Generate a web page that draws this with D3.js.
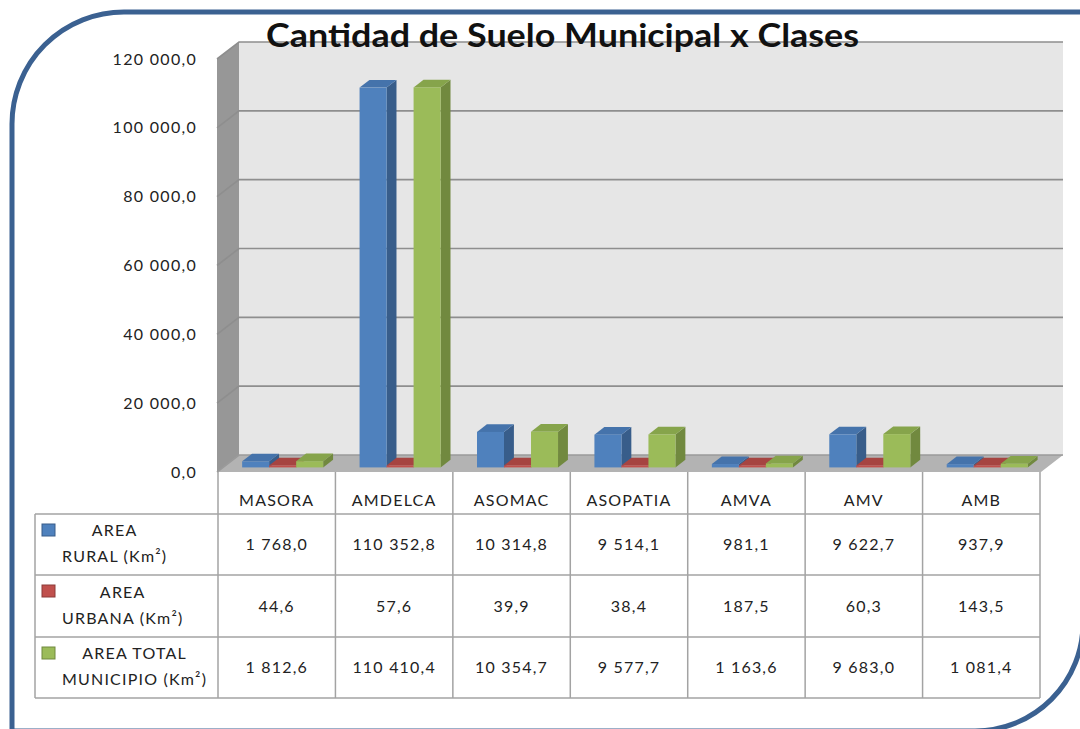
<!DOCTYPE html>
<html>
<head>
<meta charset="utf-8">
<script src="https://cdnjs.cloudflare.com/ajax/libs/d3/7.8.5/d3.min.js"></script>
<style>
  body { margin: 0; background: #fff; }
  svg { display: block; font-family: Lato, "Open Sans", sans-serif; }
  .tick-label { font-size: 16px; fill: #222; letter-spacing: 1.3px; }
  .cell { font-size: 16px; fill: #222; letter-spacing: 1.2px; }
</style>
</head>
<body>
<script>
// datos
var categories = ["MASORA", "AMDELCA", "ASOMAC", "ASOPATIA", "AMVA", "AMV", "AMB"];
var rural  = [1768.0, 110352.8, 10314.8, 9514.1, 981.1, 9622.7, 937.9];
var urbana = [44.6, 57.6, 39.9, 38.4, 187.5, 60.3, 143.5];
var total  = [1812.6, 110410.4, 10354.7, 9577.7, 1163.6, 9683.0, 1081.4];
var seriesNames = [["AREA", "RURAL (Km\u00b2)"], ["AREA", "URBANA (Km\u00b2)"], ["AREA TOTAL", "MUNICIPIO  (Km\u00b2)"]];
var yTicks = [0, 20000, 40000, 60000, 80000, 100000, 120000];

var w = 1080, h = 729;
var colors = [
  {front: "#4f81bd", side: "#385d8a", top: "#4573ab"},
  {front: "#c0504d", side: "#8c3a38", top: "#a64441"},
  {front: "#9bbb59", side: "#71893f", top: "#86a44b"}
];
var series = [rural, urbana, total];

var svg = d3.select("body").append("svg")
  .attr("width", w)
  .attr("height", h);

// marco azul con esquinas redondeadas
var r1 = 112, r2 = 108, bot = 731;
svg.append("path")
  .attr("d", "M12,745 L12," + (12 + r1) + " A" + r1 + "," + r1 + " 0 0 1 " + (12 + r1) + ",12 L1095,12"
    + " M1083," + (bot - r2) + " A" + r2 + "," + r2 + " 0 0 1 " + (1083 - r2) + "," + bot + " L12," + bot)
  .style("fill", "none")
  .style("stroke", "#3b6191")
  .style("stroke-width", 5);

// geometria 3D
var floorY = 472, x0 = 217, x1 = 1041;
var dx = 22, dy = -17, wallH = 413;

var y = d3.scaleLinear().domain([0, 120000]).range([0, wallH]);
var xCol = d3.scaleBand().domain(categories).range([218, 1040]);
var x = d3.scaleBand().domain(categories).range([218, 1040]).paddingInner(0.31).paddingOuter(0.155);
var xs = d3.scaleBand().domain([0, 1, 2]).range([0, x.bandwidth()]);

var fmt = d3.formatLocale({decimal: ",", thousands: " ", grouping: [3], currency: ["", ""]}).format(",.1f");

var chart = svg.append("g");

// pared lateral
chart.append("polygon")
  .attr("points", [[x0, floorY - wallH], [x0 + dx, floorY - wallH + dy], [x0 + dx, floorY + dy], [x0, floorY]].join(" "))
  .style("fill", "#979797");
// pared del fondo
chart.append("rect")
  .attr("x", x0 + dx).attr("y", floorY + dy - wallH)
  .attr("width", x1 - x0).attr("height", wallH)
  .style("fill", "#e6e6e6");
// piso
chart.append("polygon")
  .attr("points", [[x0, floorY], [x0 + dx, floorY + dy], [x1 + dx, floorY + dy], [x1, floorY]].join(" "))
  .style("fill", "#b3b3b3");

// lineas de cuadricula
chart.append("g").selectAll("path")
  .data(yTicks)
  .enter()
  .append("path")
  .attr("d", function(d) {
    var yy = floorY - y(d);
    return "M" + x0 + "," + yy + " L" + (x0 + dx) + "," + (yy + dy) + " L" + (x1 + dx) + "," + (yy + dy);
  })
  .style("fill", "none")
  .style("stroke", function(d) { return d == 0 ? "#9a9a9a" : "#8e8e8e"; })
  .style("stroke-width", 1.6);

// etiquetas eje y
svg.append("g").selectAll("text")
  .data(yTicks)
  .enter()
  .append("text")
  .attr("class", "tick-label")
  .attr("x", 197)
  .attr("y", function(d) { return floorY - y(d); })
  .attr("dy", "0.35em")
  .attr("text-anchor", "end")
  .text(function(d) { return fmt(d); });

// barras 3D
var f0 = 0.27, bd = 0.45;
var bx = dx * f0, by = dy * f0, bdx = dx * bd, bdy = dy * bd;
var bars = [];
categories.forEach(function(c, i) {
  series.forEach(function(s, j) {
    bars.push({cat: c, s: j, v: s[i]});
  });
});
var bar = chart.append("g").selectAll("g")
  .data(bars)
  .enter()
  .append("g");
function geom(d) {
  var left = x(d.cat) + xs(d.s) + bx;
  var right = left + xs.bandwidth();
  var bottom = floorY + by;
  var top = bottom - Math.max(y(d.v), 2);
  return {l: left, r: right, b: bottom, t: top};
}
bar.append("polygon")
  .attr("points", function(d) {
    var g = geom(d);
    return [[g.r, g.t], [g.r + bdx, g.t + bdy], [g.r + bdx, g.b + bdy], [g.r, g.b]].join(" ");
  })
  .style("fill", function(d) { return colors[d.s].side; });
bar.append("polygon")
  .attr("points", function(d) {
    var g = geom(d);
    return [[g.l, g.t], [g.l + bdx, g.t + bdy], [g.r + bdx, g.t + bdy], [g.r, g.t]].join(" ");
  })
  .style("fill", function(d) { return colors[d.s].top; });
bar.append("rect")
  .attr("x", function(d) { return geom(d).l; })
  .attr("y", function(d) { return geom(d).t; })
  .attr("width", xs.bandwidth())
  .attr("height", function(d) { var g = geom(d); return g.b - g.t; })
  .style("fill", function(d) { return colors[d.s].front; });

// titulo
svg.append("text")
  .attr("x", 266).attr("y", 47)
  .attr("textLength", 593)
  .attr("lengthAdjust", "spacingAndGlyphs")
  .style("font-size", "32px")
  .style("font-weight", "bold")
  .style("fill", "#111")
  .text("Cantidad de Suelo Municipal x Clases");

// tabla de datos
var tbl = svg.append("g");
var rowsY = [514, 575, 637, 698];
var lineColor = "#a3a3a3";
tbl.selectAll(".hl")
  .data(rowsY)
  .enter()
  .append("line")
  .attr("x1", 35).attr("x2", 1040)
  .attr("y1", function(d) { return d; }).attr("y2", function(d) { return d; })
  .style("stroke", lineColor).style("stroke-width", 1.5);
tbl.selectAll(".vl")
  .data(categories.concat(["end"]))
  .enter()
  .append("line")
  .attr("x1", function(d) { return d == "end" ? 1040 : xCol(d); })
  .attr("x2", function(d) { return d == "end" ? 1040 : xCol(d); })
  .attr("y1", floorY).attr("y2", 698)
  .style("stroke", lineColor).style("stroke-width", 1.5);
tbl.append("line")
  .attr("x1", 35).attr("x2", 35).attr("y1", 514).attr("y2", 698)
  .style("stroke", lineColor).style("stroke-width", 1.5);

tbl.selectAll(".hdr")
  .data(categories)
  .enter()
  .append("text")
  .attr("class", "cell")
  .attr("x", function(d) { return xCol(d) + xCol.bandwidth() / 2; })
  .attr("y", (floorY + 514) / 2 + 7)
  .attr("dy", "0.35em")
  .attr("text-anchor", "middle")
  .text(function(d) { return d; });

series.forEach(function(s, j) {
  var yc = (rowsY[j] + rowsY[j + 1]) / 2;
  tbl.append("g").selectAll("text")
    .data(s)
    .enter()
    .append("text")
    .attr("class", "cell")
    .attr("x", function(d, i) { return xCol(categories[i]) + xCol.bandwidth() / 2; })
    .attr("y", yc)
    .attr("dy", "0.35em")
    .attr("text-anchor", "middle")
    .text(function(d) { return fmt(d); });

  // leyenda
  tbl.append("rect")
    .attr("x", 42).attr("y", rowsY[j] + 10)
    .attr("width", 13).attr("height", 12)
    .style("fill", colors[j].front)
    .style("stroke", colors[j].side).style("stroke-width", 1);
  var l2 = tbl.append("text")
    .attr("class", "cell")
    .attr("x", 62).attr("y", yc + 12)
    .attr("dy", "0.35em")
    .text(seriesNames[j][1]);
  var wl = l2.node().getComputedTextLength();
  tbl.append("text")
    .attr("class", "cell")
    .attr("x", 62 + wl / 2).attr("y", yc - 14)
    .attr("dy", "0.35em")
    .attr("text-anchor", "middle")
    .text(seriesNames[j][0]);
});
</script>
</body>
</html>
